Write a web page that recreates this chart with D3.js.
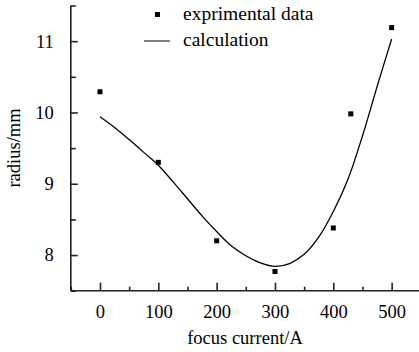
<!DOCTYPE html>
<head>
    <title>Focus current</title>
    <meta charset='utf-8'>
    <script type='text/javascript' src='https://cdn.jsdelivr.net/npm/d3@7'></script>
    <style>
        body { margin: 0; background: #fff; }
        text { font-family: 'Liberation Serif', 'DejaVu Serif', serif; fill: #000; }
    </style>
</head>
<body>
    <div id='chart'></div>
    <script>
    // experimental points
    var expCurrent = [0, 100, 200, 300, 400, 430, 500];
    var expRadius  = [10.29, 9.30, 8.20, 7.77, 8.38, 9.98, 11.19];

    // calculated curve
    var calcCurrent = [0, 25, 50, 75, 100, 125, 150, 175, 200, 225, 250, 275, 300, 325, 350, 375, 400, 425, 450, 475, 500];
    var calcRadius  = [9.94, 9.79, 9.62, 9.44, 9.26, 9.03, 8.79, 8.55, 8.33, 8.13, 7.99, 7.89, 7.84, 7.88, 8.01, 8.25, 8.61, 9.06, 9.67, 10.36, 11.03];

    var xTicks = [0, 100, 200, 300, 400, 500];
    var yTicks = [8, 9, 10, 11];
    var legendLabels = ['exprimental data', 'calculation'];

    var W = 419, H = 352;
    var margin = {top: 5.5, right: -1.8, bottom: 61.3, left: 70.8};
    var width = W - margin.left - margin.right,
        height = H - margin.top - margin.bottom;

    var svg = d3.select('#chart').append('svg')
        .attr('width', W)
        .attr('height', H);
    var g = svg.append('g').attr('transform', 'translate(' + margin.left + ',' + margin.top + ')');

    var x = d3.scaleLinear().domain([-50, 550]).range([0, width]);
    var y = d3.scaleLinear().domain([7.5, 11.5]).range([height, 0]);

    // minor ticks (inward, no labels)
    g.append('g').attr('transform', 'translate(0,' + height + ')')
        .call(d3.axisTop(x).tickValues([-50, 50, 150, 250, 350, 450, 550]).tickSize(4).tickFormat(''));
    g.append('g')
        .call(d3.axisRight(y).tickValues([7.5, 8.5, 9.5, 10.5, 11.5]).tickSize(5).tickFormat(''));

    // major ticks with labels outside
    var xAxis = g.append('g')
        .attr('transform', 'translate(0,' + height + ')')
        .call(d3.axisTop(x).tickValues(xTicks).tickSize(8).tickFormat(d3.format('d')));
    xAxis.selectAll('text')
        .attr('y', 14)
        .attr('dy', '0.71em')
        .style('font-size', '18.5px');

    var yAxis = g.append('g')
        .call(d3.axisRight(y).tickValues(yTicks).tickSize(7).tickFormat(d3.format('d')));
    yAxis.selectAll('text')
        .attr('x', -17)
        .attr('text-anchor', 'end')
        .style('font-size', '18.5px');

    g.selectAll('.tick line')
        .attr('stroke', '#222')
        .attr('stroke-width', 1.6);

    // plain axis lines instead of d3's domain paths
    g.selectAll('.domain').remove();
    g.append('line')
        .attr('x1', 0).attr('x2', width)
        .attr('y1', height).attr('y2', height)
        .attr('stroke', '#222').attr('stroke-width', 1.6);
    g.append('line')
        .attr('x1', 0).attr('x2', 0)
        .attr('y1', 0).attr('y2', height)
        .attr('stroke', '#222').attr('stroke-width', 1.6);

    // calculation curve
    var line = d3.line()
        .x(function (d) { return x(d[0]); })
        .y(function (d) { return y(d[1]); })
        .curve(d3.curveCatmullRom);

    g.append('path')
        .datum(d3.zip(calcCurrent, calcRadius))
        .attr('fill', 'none')
        .attr('stroke', '#000')
        .attr('stroke-width', 1.3)
        .attr('d', line);

    // experimental squares
    g.selectAll('rect.pt')
        .data(d3.zip(expCurrent, expRadius))
        .enter().append('rect')
        .attr('class', 'pt')
        .attr('x', function (d) { return x(d[0]) - 2.5; })
        .attr('y', function (d) { return y(d[1]) - 2.5; })
        .attr('width', 5)
        .attr('height', 5)
        .attr('fill', '#000');

    // axis titles
    svg.append('text')
        .attr('x', 245)
        .attr('y', 344)
        .attr('text-anchor', 'middle')
        .style('font-size', '18.5px')
        .text('focus current/A');

    svg.append('text')
        .attr('transform', 'translate(20,148) rotate(-90)')
        .attr('text-anchor', 'middle')
        .style('font-size', '18.5px')
        .text('radius/mm');

    // legend
    var legend = svg.append('g');
    legend.append('rect')
        .attr('x', 155).attr('y', 12).attr('width', 5).attr('height', 5)
        .attr('fill', '#000');
    legend.append('line')
        .attr('x1', 144).attr('x2', 170)
        .attr('y1', 41).attr('y2', 41)
        .attr('stroke', '#000').attr('stroke-width', 1);
    legend.selectAll('text.leg')
        .data(legendLabels)
        .enter().append('text')
        .attr('class', 'leg')
        .attr('x', 183)
        .attr('y', function (d, i) { return 20 + i * 26; })
        .style('font-size', '19.5px')
        .text(function (d) { return d; });
    </script>
</body>
</html>
